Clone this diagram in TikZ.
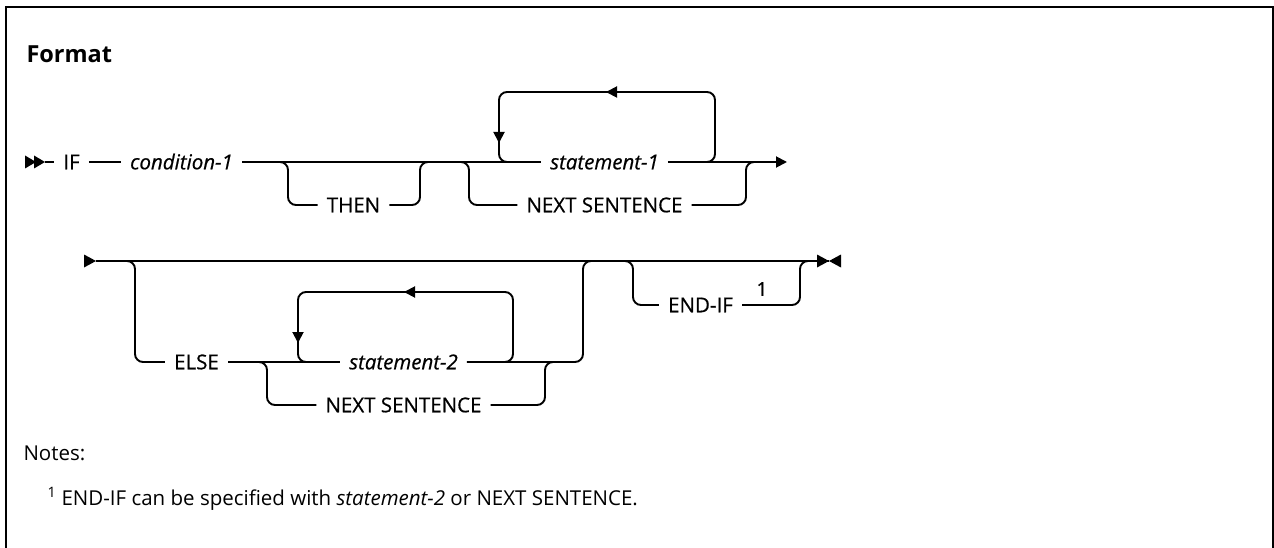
\documentclass[tikz,border=0pt]{standalone}
\usepackage{fontspec}
\setmainfont{Open Sans}
\newfontfamily\diagfont{Open Sans}[FakeBold=0.6, ItalicFeatures={FakeBold=0.6}]
\usetikzlibrary{arrows.meta}
\begin{document}
\begin{tikzpicture}[x=1pt,y=-1pt,
  rail/.style={line width=1.9pt, rounded corners=8pt},
  lbl/.style={font=\diagfont\fontsize{20.5}{24}\selectfont, text height=14.6pt, text depth=0pt, inner ysep=0pt, inner xsep=9pt},
  tipline/.style={line width=1.9pt, -{Triangle[length=11pt,width=11pt]}},
  head/.style={fill=black},
]
\useasboundingbox (0,0) rectangle (1274,548);
% frame
\draw[line width=2pt] (6,548) -- (6,7) -- (1273,7) -- (1273,548);
\node[anchor=base west, font=\fontsize{23.5}{28}\selectfont\bfseries] (title) at (23,63) {Format};

% ---------- row 1 ----------
\node[lbl] (IF) at (71.5,162) {IF};
\node[lbl] (cond) at (181.5,162) {\itshape condition-1};
\node[lbl] (then) at (353.5,205) {THEN};
\node[lbl] (st1) at (604.5,162) {\itshape statement-1};
\node[lbl] (ns1) at (604.5,205) {NEXT SENTENCE};
\coordinate (s1) at (45,162);
\coordinate (e1) at (787,162);
\fill[head] (25,155.5) -- (36,162) -- (25,168.5) -- cycle;
\fill[head] (34,155.5) -- (45,162) -- (34,168.5) -- cycle;
\draw[rail] (s1) -- (IF.west);
\draw[rail] (IF.east) -- (cond.west);
\draw[rail] (cond.east) -- (st1.west);
\draw[rail] (280,162) -- (288,162) -- (288,205) -- (then.west);
\draw[rail] (then.east) -- (420,205) -- (420,162) -- (428,162);
\draw[rail] (461,162) -- (469,162) -- (469,205) -- (ns1.west);
\draw[rail] (ns1.east) -- (746,205) -- (746,162) -- (754,162);
\draw[tipline] (st1.east) -- (e1);
% loop 1
\draw[rail] (707,162) -- (715,162) -- (715,92) -- (499,92) -- (499,162) -- (507,162);
\draw[tipline] (624,92) -- (606,92);
\draw[tipline] (499,125) -- (499,143);

% ---------- row 2 ----------
\node[lbl] (else) at (196.5,362) {ELSE};
\node[lbl] (st2) at (403.5,362) {\itshape statement-2};
\node[lbl] (ns2) at (403.5,405) {NEXT SENTENCE};
\node[lbl] (endif) at (700.5,305) {END-IF};
\node[font=\diagfont\fontsize{19}{22}\selectfont, inner sep=0pt] (sup) at (762,289) {1};
\coordinate (s2) at (96,261);
\coordinate (e2) at (829,261);
\fill[head] (84,254.5) -- (96,261) -- (84,267.5) -- cycle;
\draw[rail] (s2) -- (e2);
\draw[rail] (127,261) -- (135,261) -- (135,362) -- (else.west);
\draw[rail] (else.east) -- (st2.west);
\draw[rail] (259,362) -- (267,362) -- (267,405) -- (ns2.west);
\draw[rail] (ns2.east) -- (545,405) -- (545,362) -- (553,362);
\draw[rail] (st2.east) -- (583,362) -- (583,261) -- (591,261);
% loop 2
\draw[rail] (505,362) -- (513,362) -- (513,292) -- (298,292) -- (298,362) -- (306,362);
\draw[tipline] (424,292) -- (404,292);
\draw[tipline] (298,325) -- (298,343);
% END-IF
\draw[rail] (625,261) -- (633,261) -- (633,305) -- (endif.west);
\draw[rail] (endif.east) -- (800,305) -- (800,261) -- (808,261);
\fill[head] (817,254.5) -- (829,261) -- (817,267.5) -- cycle;
\fill[head] (841,254.5) -- (829,261) -- (841,267.5) -- cycle;

% ---------- notes ----------
\node[anchor=base west, font=\fontsize{20.5}{24}\selectfont] (notes) at (20,460) {Notes:};
\node[anchor=base west, font=\fontsize{20.5}{24}\selectfont] (fn) at (44,505) {\textsuperscript{1} END-IF can be specified with \textit{statement-2} or NEXT SENTENCE.};
\end{tikzpicture}
\end{document}
